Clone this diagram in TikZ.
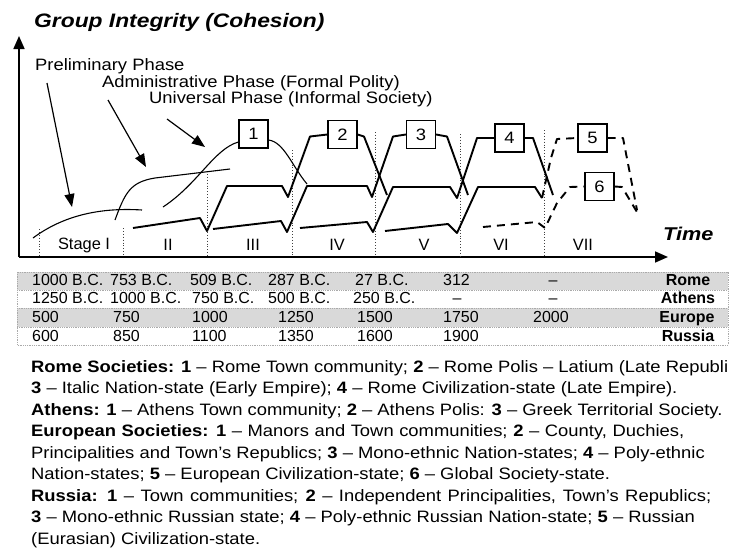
\documentclass[tikz,border=0pt]{standalone}
\usepackage{fontspec}
\setmainfont{Liberation Sans}
\newfontfamily\widefam[FakeStretch=1.115]{Liberation Sans}
\newfontfamily\titlefam[FakeStretch=1.17]{Liberation Sans}
\usetikzlibrary{arrows.meta}
\newcommand\fsTitle{\titlefam\fontsize{19.5}{22}\selectfont\bfseries\itshape}
\newcommand\fsTime{\titlefam\fontsize{18.5}{21}\selectfont\bfseries\itshape}
\newcommand\fsText{\widefam\fontsize{16.5}{20}\selectfont}
\newcommand\fsStage{\fontsize{16.4}{19}\selectfont}
\newcommand\fsTab{\fontsize{16}{18}\selectfont}
\definecolor{rowgray}{RGB}{217,217,217}
\definecolor{tabline}{RGB}{170,170,170}
\begin{document}
\begin{tikzpicture}[x=1pt,y=-1pt,
  tier/.style={line width=1.9pt, line join=round},
  dtier/.style={tier, dash pattern=on 8pt off 6pt},
  thincurve/.style={line width=1.1pt},
  divider/.style={line width=0.9pt, dotted, black!75},
  axis/.style={line width=1.7pt, -{Triangle[length=13pt,width=11pt]}},
  parrow/.style={line width=1.2pt, -{Triangle[length=13pt,width=10pt]}},
  numbox/.style={draw, line width=1.2pt, fill=white, minimum width=29pt, minimum height=28pt, inner sep=0pt, font=\fsText},
  lbl/.style={anchor=base west, inner sep=0pt, font=\fsText},
  stagelbl/.style={anchor=center, inner sep=0pt, font=\fsStage},
  cell/.style={anchor=base west, inner sep=0pt, font=\fsTab},
  ccell/.style={anchor=base, inner sep=0pt, font=\fsTab},
  rowname/.style={anchor=base, inner sep=0pt, font=\fsTab\bfseries},
  legend/.style={anchor=base west, inner sep=0pt, font=\fsText}
]
\useasboundingbox (0,0) rectangle (731,549);
\fill[white] (0,0) rectangle (731,549);

% title and axes
\node[anchor=base west, inner sep=0pt, font=\fsTitle] (title) at (34,27) {Group Integrity (Cohesion)};
\coordinate (O) at (19,257);
\coordinate (ytop) at (19,36);
\coordinate (xend) at (668,257);
\draw[axis] (O) -- (ytop);
\draw[axis] (O) -- (xend);
\node[anchor=base west, inner sep=0pt, font=\fsTime] (time) at (663,240) {Time};

% dividers
\foreach \x/\t in {39/229,123/228,207/171,292/150,375/132,460/134,544/130}{
  \draw[divider] (\x,\t) -- (\x,256);
}
% stage labels
\node[stagelbl] (s1) at (84,245) {Stage I};
\node[stagelbl] (s2) at (168,245) {II};
\node[stagelbl] (s3) at (253,245) {III};
\node[stagelbl] (s4) at (337,245) {IV};
\node[stagelbl] (s5) at (424,245) {V};
\node[stagelbl] (s6) at (501,245) {VI};
\node[stagelbl] (s7) at (583,245) {VII};

% phase labels
\node[lbl] (pre) at (35,70.5) {Preliminary Phase};
\node[lbl] (adm) at (102,87) {Administrative Phase (Formal Polity)};
\node[lbl] (uni) at (149,103.5) {Universal Phase (Informal Society)};
\coordinate (a1s) at (47,83);  \coordinate (a1e) at (72,207);
\coordinate (a2s) at (108,100); \coordinate (a2e) at (146,167);
\coordinate (a3s) at (167,119); \coordinate (a3e) at (205,147);
\draw[parrow] (a1s) -- (a1e);
\draw[parrow] (a2s) -- (a2e);
\draw[parrow] (a3s) -- (a3e);

% boxes
\node[numbox] (b1) at (253.5,134) {1};
\node[numbox] (b2) at (342.5,134.5) {2};
\node[numbox] (b3) at (421,134.5) {3};
\node[numbox] (b4) at (509.5,138) {4};
\node[numbox] (b5) at (592.5,138) {5};
\node[numbox] (b6) at (599.5,186.5) {6};

% thin phase curves
\draw[thincurve] (33,238) .. controls (60,218) and (95,207) .. (142,210);
\draw[thincurve] (115,220) .. controls (125,193) and (130,182) .. (155,178) -- (230,169);
\draw[thincurve] (163,207) .. controls (198,184) and (214,149) .. (b1.west |- 0,142);
\draw[thincurve] (b1.east |- 0,140) .. controls (284,142) and (292,166) .. (307,184);

% thick tiers
\draw[tier] (133,228) -- (200,218) -- (207,231) -- (227,186) -- (282,186) -- (288,197) -- (310,136.5) -- (b2.west);
\draw[tier] (b2.east) -- (364,136.5) -- (387,195);
\draw[tier] (213,229) -- (281,221) -- (287,232) -- (307,186) -- (367,186) -- (372,197) -- (393,136.5) -- (b3.west);
\draw[tier] (b3.east) -- (447,136.5) -- (468,195);
\draw[tier] (300,228) -- (367,222) -- (373,232) -- (393,187) -- (450,187) -- (457,198) -- (477,138) -- (b4.west);
\draw[tier] (b4.east) -- (533,138) -- (553,195);
\draw[tier] (385,231) -- (448,224) -- (457,233) -- (478,187) -- (535,187) -- (542,198);
\draw[dtier] (542,198) -- (551,158) -- (557,139) -- (b5.west);
\draw[dtier] (b5.east) -- (623,138) -- (637,210);
\draw[dtier] (483,227) -- (537,222) -- (545,228) -- (557,203) -- (570,187) -- (b6.west);
\draw[dtier] (b6.east) -- (622,187) -- (637,212);

% table
\fill[rowgray] (17,272) rectangle (728,290);
\fill[rowgray] (17,308) rectangle (728,327);
\draw[tabline, densely dotted, line width=0.8pt] (17,272) rectangle (728,345);
\draw[tabline, densely dotted, line width=0.8pt] (17,290) -- (728,290) (17,308) -- (728,308) (17,327) -- (728,327);

\node[cell] (r1c1) at (32,285.7) {1000 B.C.};
\node[cell] (r1c2) at (110,285.7) {753 B.C.};
\node[cell] (r1c3) at (190,285.7) {509 B.C.};
\node[cell] (r1c4) at (268,285.7) {287 B.C.};
\node[cell] (r1c5) at (355,285.7) {27 B.C.};
\node[cell] (r1c6) at (443,285.7) {312};
\node[ccell] (r1c7) at (553,285.7) {–};
\node[rowname] (r1n) at (688,285.7) {Rome};

\node[cell] (r2c1) at (32,303.7) {1250 B.C.};
\node[cell] (r2c2) at (110,303.7) {1000 B.C.};
\node[cell] (r2c3) at (192,303.7) {750 B.C.};
\node[cell] (r2c4) at (268,303.7) {500 B.C.};
\node[cell] (r2c5) at (353,303.7) {250 B.C.};
\node[ccell] (r2c6) at (457,303.7) {–};
\node[ccell] (r2c7) at (553,303.7) {–};
\node[rowname] (r2n) at (688,303.7) {Athens};

\node[cell] (r3c1) at (32,322.7) {500};
\node[cell] (r3c2) at (113,322.7) {750};
\node[cell] (r3c3) at (192,322.7) {1000};
\node[cell] (r3c4) at (278,322.7) {1250};
\node[cell] (r3c5) at (357,322.7) {1500};
\node[cell] (r3c6) at (443,322.7) {1750};
\node[cell] (r3c7) at (533,322.7) {2000};
\node[rowname] (r3n) at (687,322.7) {Europe};

\node[cell] (r4c1) at (32,341.7) {600};
\node[cell] (r4c2) at (113,341.7) {850};
\node[cell] (r4c3) at (192,341.7) {1100};
\node[cell] (r4c4) at (278,341.7) {1350};
\node[cell] (r4c5) at (357,341.7) {1600};
\node[cell] (r4c6) at (443,341.7) {1900};
\node[rowname] (r4n) at (688,341.7) {Russia};

% legend
\node[legend] (l1) at (31,372) {\textbf{Rome Societies: 1} – Rome Town community; \textbf{2} – Rome Polis – Latium (Late Republi};
\node[legend] (l2) at (31,393.5) {\textbf{3} – Italic Nation-state (Early Empire); \textbf{4} – Rome Civilization-state (Late Empire).};
\node[legend] (l3) at (31,415) {\textbf{Athens: 1} – Athens Town community; \textbf{2} – Athens Polis: \textbf{3} – Greek Territorial Society.};
\node[legend] (l4) at (31,436.5) {\makebox[653pt][s]{\textbf{European Societies: 1} – Manors and Town communities; \textbf{2} – County, Duchies,}};
\node[legend] (l5) at (31,458) {Principalities and Town’s Republics; \textbf{3} – Mono-ethnic Nation-states; \textbf{4} – Poly-ethnic};
\node[legend] (l6) at (31,479.5) {Nation-states; \textbf{5} – European Civilization-state; \textbf{6} – Global Society-state.};
\node[legend] (l7) at (31,501) {\makebox[680pt][s]{\textbf{Russia: 1} – Town communities; \textbf{2} – Independent Principalities, Town’s Republics;}};
\node[legend] (l8) at (31,522.5) {\textbf{3} – Mono-ethnic Russian state; \textbf{4} – Poly-ethnic Russian Nation-state; \textbf{5} – Russian};
\node[legend] (l9) at (31,544) {(Eurasian) Civilization-state.};
\end{tikzpicture}
\end{document}
